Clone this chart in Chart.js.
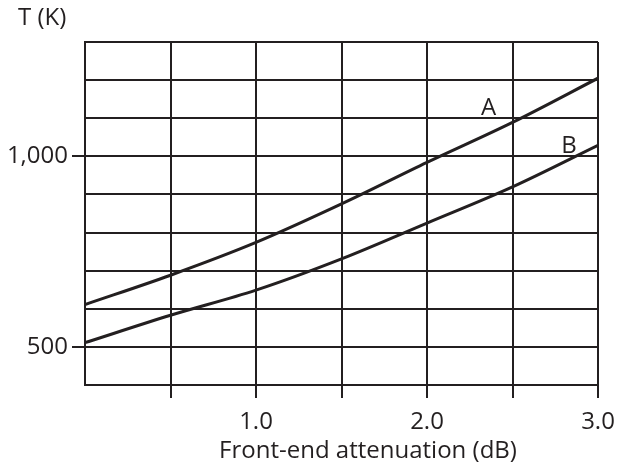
<!DOCTYPE html>
<html>
<head>
<meta charset="utf-8">
<script src="https://cdn.jsdelivr.net/npm/chart.js@4.4.0/dist/chart.umd.min.js"></script>
<style>
  html, body { margin: 0; padding: 0; background: #ffffff; }
  #wrap { width: 621px; height: 465px; position: relative; }
</style>
</head>
<body>
<div id="wrap"><canvas id="c" width="621" height="465"></canvas></div>
<script>
// ---- data ----
const attenuation = [0, 0.5, 1.0, 1.5, 2.0, 2.5, 3.0];
const tempA = [611, 688, 774, 875, 984, 1089, 1205];
const tempB = [511, 583, 649, 731, 825, 920, 1029];
const xTickLabels = { 1: '1.0', 2: '2.0', 3: '3.0' };
const yTickLabels = { 500: '500', 1000: '1,000' };
const curveLabels = ['A', 'B'];
const curveLabelX = [2.36, 2.83];
const curveLabelY = [1108, 1009];
const xAxisTitle = 'Front-end attenuation (dB)';
const yAxisTitle = 'T (K)';

const INK = '#231f20';
const FONT = "'Open Sans', 'Noto Sans', sans-serif";
const FS = 24;

const toPts = (xs, ys) => xs.map((x, i) => ({ x: x, y: ys[i] }));

const textPlugin = {
  id: 'texts',
  afterDraw(chart) {
    const ctx = chart.ctx;
    const xs = chart.scales.x, ys = chart.scales.y;
    ctx.save();
    ctx.fillStyle = INK;
    ctx.font = FS + 'px ' + FONT;
    ctx.textAlign = 'center';
    ctx.textBaseline = 'alphabetic';
    curveLabels.forEach((t, i) => {
      ctx.fillText(t, xs.getPixelForValue(curveLabelX[i]), ys.getPixelForValue(curveLabelY[i]));
    });
    // axis titles
    ctx.fillText(xAxisTitle, 368, 458);
    ctx.textAlign = 'left';
    ctx.fillText(yAxisTitle, 18, 25);
    ctx.restore();
  }
};

new Chart(document.getElementById('c'), {
  type: 'line',
  data: {
    datasets: [
      { label: 'A', data: toPts(attenuation, tempA), borderColor: INK, borderWidth: 3, pointRadius: 0, tension: 0.4, cubicInterpolationMode: 'monotone', fill: false },
      { label: 'B', data: toPts(attenuation, tempB), borderColor: INK, borderWidth: 3, pointRadius: 0, tension: 0.4, cubicInterpolationMode: 'monotone', fill: false }
    ]
  },
  options: {
    responsive: false,
    animation: false,
    layout: { padding: { top: 42, right: 23, left: 0, bottom: 0 } },
    plugins: { legend: { display: false }, tooltip: { enabled: false }, title: { display: false } },
    scales: {
      x: {
        type: 'linear', min: 0, max: 3,
        afterFit(s) { s.height = 80; s.paddingLeft = 0; s.paddingRight = 0; },
        ticks: {
          stepSize: 0.5, autoSkip: false, maxRotation: 0,
          color: INK, font: { family: FONT, size: FS }, padding: 10,
          callback: v => xTickLabels[v] || ''
        },
        grid: {
          color: INK, lineWidth: 2, drawTicks: true, tickLength: 13,
          tickColor: c => (c.tick && c.tick.value === 0) ? 'rgba(0,0,0,0)' : INK,
          tickWidth: 2
        },
        border: { display: true, color: INK, width: 2 },
        title: { display: false }
      },
      y: {
        type: 'linear', min: 400, max: 1300,
        afterFit(s) { s.width = 85; s.paddingTop = 0; s.paddingBottom = 0; },
        ticks: {
          stepSize: 100, autoSkip: false, color: INK, font: { family: FONT, size: FS }, padding: 4,
          callback: v => yTickLabels[v] || ''
        },
        grid: {
          color: INK, lineWidth: 2, drawTicks: true, tickLength: 13,
          tickColor: c => (c.tick && yTickLabels[c.tick.value]) ? INK : 'rgba(0,0,0,0)',
          tickWidth: 2
        },
        border: { display: true, color: INK, width: 2 }
      }
    }
  },
  plugins: [textPlugin]
});
</script>
</body>
</html>
